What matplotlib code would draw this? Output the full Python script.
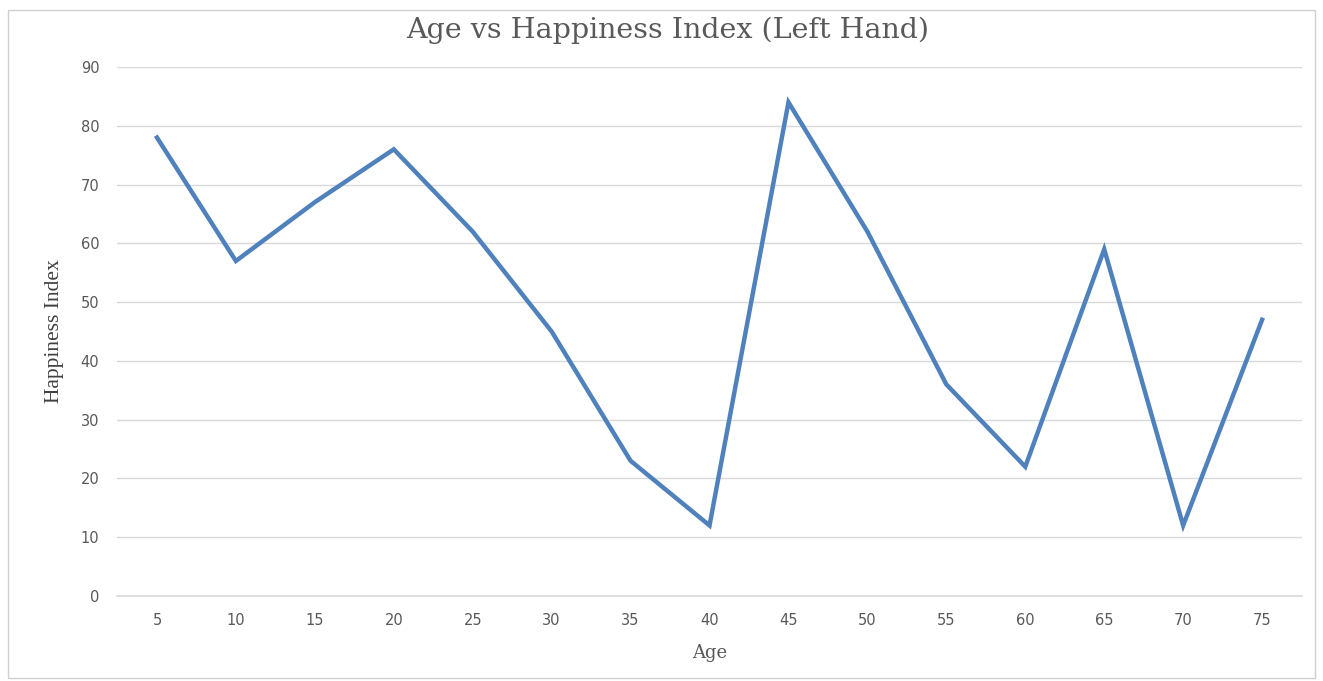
import matplotlib.pyplot as plt
from matplotlib.patches import Rectangle

# data
ages = [5, 10, 15, 20, 25, 30, 35, 40, 45, 50, 55, 60, 65, 70, 75]
happiness = [78, 57, 67, 76, 62, 45, 23, 12, 84, 62, 36, 22, 59, 12, 47]
y_ticks = [0, 10, 20, 30, 40, 50, 60, 70, 80, 90]

line_color = '#4F81BD'
text_color = '#595959'
grid_color = '#D9D9D9'

fig = plt.figure(figsize=(13.23, 6.81), dpi=100)
ax = fig.add_axes([0.0888, 0.1248, 0.8950, 0.7768])

# outer chart border like an Excel chart frame
fig.patches.append(Rectangle((0.006, 0.004), 0.988, 0.981, transform=fig.transFigure,
                             fill=False, edgecolor='#D0D0D0', linewidth=1.0))

pos = list(range(len(ages)))
ax.plot(pos, happiness, color=line_color, linewidth=3.2, solid_joinstyle='miter')

ax.set_xlim(-0.5, len(ages) - 0.5)
ax.set_ylim(0, 90)
ax.set_xticks(pos)
ax.set_xticklabels([str(a) for a in ages])
ax.set_yticks(y_ticks)

ax.grid(axis='y', color=grid_color, linewidth=1.0)
ax.set_axisbelow(True)
for s in ['top', 'right', 'left']:
    ax.spines[s].set_visible(False)
ax.spines['bottom'].set_color(grid_color)
ax.spines['bottom'].set_linewidth(1.2)
ax.tick_params(axis='both', length=0, colors=text_color, labelsize=10.5)
ax.tick_params(axis='x', pad=12)
ax.tick_params(axis='y', pad=13)
for lbl in ax.get_xticklabels() + ax.get_yticklabels():
    lbl.set_family('DejaVu Sans')

ax.set_xlabel('Age', family='DejaVu Serif', fontsize=13, color=text_color, labelpad=12)
ax.set_ylabel('Happiness Index', family='Liberation Serif', fontsize=15.5, color='#404040', labelpad=12)
fig.text(0.505, 0.955, 'Age vs Happiness Index (Left Hand)', ha='center', va='center',
         family='DejaVu Serif', fontsize=20.5, color=text_color)

fig.savefig('out.png', dpi=100, facecolor='white')
